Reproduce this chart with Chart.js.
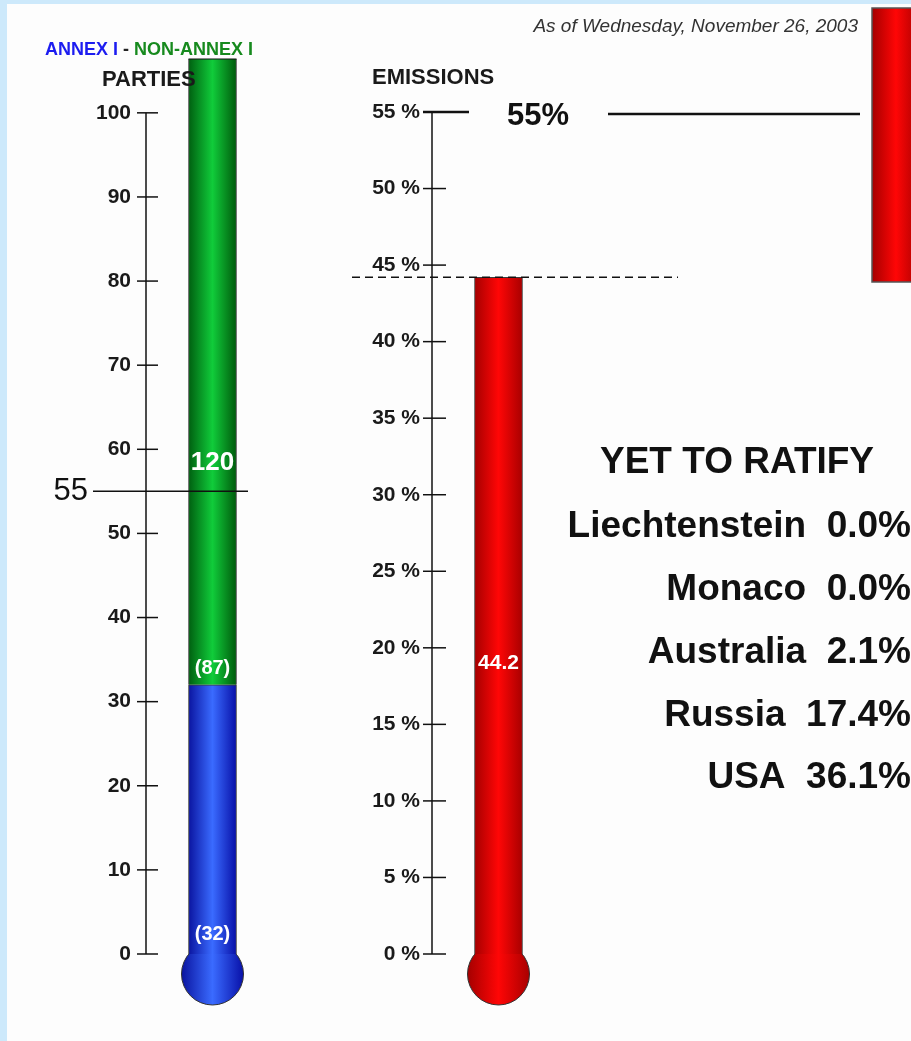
<!DOCTYPE html>
<html>
<head>
<meta charset="utf-8">
<title>Kyoto Protocol - parties and emissions</title>
<script src="https://cdn.jsdelivr.net/npm/chart.js@4.4.0/dist/chart.umd.min.js"></script>
<style>
  html, body { margin: 0; padding: 0; }
  body { width: 911px; height: 1041px; background: #cde9fb; position: relative; overflow: hidden; }
  #sheet { position: absolute; left: 7px; top: 4px; right: 0; bottom: 0; background: #fdfdfd; }
  #partiesChart { position: absolute; left: 0; top: 0; }
  #emissionsChart { position: absolute; left: 330px; top: 0; }
</style>
</head>
<body>
<div id="sheet"></div>
<canvas id="partiesChart" width="330" height="1041"></canvas>
<canvas id="emissionsChart" width="581" height="1041"></canvas>
<script>
// ---- data ----
const partyCategories = ['Parties'];
const annexIParties = [32];
const nonAnnexIParties = [87];
const totalParties = [120];
const partyTicks = [0, 10, 20, 30, 40, 50, 60, 70, 80, 90, 100];
const partyThreshold = 55;

const emissionCategories = ['Emissions'];
const ratifiedEmissions = [44.2];
const emissionTicks = [0, 5, 10, 15, 20, 25, 30, 35, 40, 45, 50, 55];
const emissionThreshold = 55;

const pendingCountries = ['Liechtenstein', 'Monaco', 'Australia', 'Russia', 'USA'];
const pendingShares = [0.0, 0.0, 2.1, 17.4, 36.1];

const asOfDate = 'As of Wednesday, November 26, 2003';

// ---- styling ----
const FONT = '"Liberation Sans", Arial, Helvetica, sans-serif';
const TUBE = 48;
const BULB_R = 31;
const blueStops = ['#0a14a0', '#3a6bff', '#0810a8'];
const greenStops = ['#005f10', '#10cc3a', '#005a0c'];
const redStops = ['#a50000', '#ff0606', '#a80000'];

function tubeFill(stops) {
    return function (c) {
        const chart = c.chart;
        const x = chart.scales.x;
        if (!x || !chart.chartArea) return stops[1];
        const cx = x.getPixelForValue(c.dataIndex);
        const g = chart.ctx.createLinearGradient(cx - TUBE / 2, 0, cx + TUBE / 2, 0);
        g.addColorStop(0, stops[0]);
        g.addColorStop(0.5, stops[1]);
        g.addColorStop(1, stops[2]);
        return g;
    };
}

function drawBulb(ctx, cx, cy, stops) {
    const g = ctx.createLinearGradient(cx - BULB_R, 0, cx + BULB_R, 0);
    g.addColorStop(0, stops[0]);
    g.addColorStop(0.5, stops[1]);
    g.addColorStop(1, stops[2]);
    ctx.save();
    ctx.beginPath();
    ctx.arc(cx, cy, BULB_R, 0, Math.PI * 2);
    ctx.fillStyle = g;
    ctx.fill();
    ctx.lineWidth = 1;
    ctx.strokeStyle = '#333';
    ctx.stroke();
    ctx.restore();
}

function line(ctx, x1, y1, x2, y2, w, dash) {
    ctx.save();
    ctx.beginPath();
    ctx.strokeStyle = '#111';
    ctx.lineWidth = w;
    if (dash) ctx.setLineDash(dash);
    ctx.moveTo(x1, y1);
    ctx.lineTo(x2, y2);
    ctx.stroke();
    ctx.restore();
}

function text(ctx, str, x, y, font, color, align) {
    ctx.save();
    ctx.font = font;
    ctx.fillStyle = color;
    ctx.textAlign = align || 'left';
    ctx.textBaseline = 'middle';
    ctx.fillText(str, x, y);
    ctx.restore();
}

// axis line with cross ticks
function drawAxis(ctx, yScale, ax, ticks, left, right) {
    const top = yScale.getPixelForValue(ticks[ticks.length - 1]);
    const bottom = yScale.getPixelForValue(ticks[0]);
    line(ctx, ax, top, ax, bottom, 1.5);
    ticks.forEach(v => {
        const py = yScale.getPixelForValue(v);
        line(ctx, ax - left, py, ax + right, py, 1.5);
    });
}

function yOptions(max, ticks, width, pad, fmt) {
    return {
        stacked: true,
        min: 0,
        max: max,
        grid: { display: false, drawTicks: false },
        border: { display: false },
        ticks: {
            padding: pad,
            color: '#1a1a1a',
            font: { family: FONT, size: 21, weight: 'bold' },
            callback: fmt
        },
        afterBuildTicks: s => { s.ticks = ticks.map(v => ({ value: v })); },
        afterFit: s => { s.width = width; s.paddingTop = 0; s.paddingBottom = 0; }
    };
}

// ---- parties thermometer ----
const partiesDecor = {
    id: 'partiesDecor',
    beforeDatasetsDraw(chart) {
        const { ctx, scales: { x, y } } = chart;
        drawBulb(ctx, x.getPixelForValue(0), y.getPixelForValue(0) + 20, blueStops);
    },
    afterDatasetsDraw(chart) {
        const { ctx, chartArea, scales: { x, y } } = chart;
        const cx = x.getPixelForValue(0);
        line(ctx, cx - TUBE / 2, chartArea.top, cx + TUBE / 2, chartArea.top, 1);
        drawAxis(ctx, y, chartArea.left, partyTicks, 9, 12);

        const yt = y.getPixelForValue(partyThreshold);
        line(ctx, 93, yt, 248, yt, 1.5);
        text(ctx, String(partyThreshold), 88, yt, '31px ' + FONT, '#111', 'right');

        // headers
        ctx.save();
        ctx.font = 'bold 18px ' + FONT;
        ctx.textBaseline = 'middle';
        let hx = 45;
        [['ANNEX I', '#1c1cf0'], [' - ', '#222'], ['NON-ANNEX I', '#178a1e']].forEach(([s, col]) => {
            ctx.fillStyle = col;
            ctx.fillText(s, hx, 50);
            hx += ctx.measureText(s).width;
        });
        ctx.restore();
        text(ctx, 'PARTIES', 102, 80, 'bold 22px ' + FONT, '#1a1a1a');

        // values inside the tube
        text(ctx, String(totalParties[0]), cx, yt - 29, 'bold 26px ' + FONT, '#fff', 'center');
        text(ctx, '(' + nonAnnexIParties[0] + ')', cx, y.getPixelForValue(annexIParties[0]) - 16, 'bold 20px ' + FONT, '#fff', 'center');
        text(ctx, '(' + annexIParties[0] + ')', cx, y.getPixelForValue(0) - 20, 'bold 20px ' + FONT, '#fff', 'center');
    }
};

new Chart(document.getElementById('partiesChart'), {
    type: 'bar',
    data: {
        labels: partyCategories,
        datasets: [
            {
                label: 'Annex I',
                data: annexIParties,
                backgroundColor: tubeFill(blueStops),
                borderColor: '#3a3a3a',
                borderWidth: 1,
                barThickness: TUBE,
                clip: { top: 0, left: false, right: false, bottom: false }
            },
            {
                label: 'Non-Annex I',
                data: totalParties.map((t, i) => t - annexIParties[i]),
                backgroundColor: tubeFill(greenStops),
                borderColor: '#3a3a3a',
                borderWidth: 1,
                barThickness: TUBE,
                clip: { top: 0, left: false, right: false, bottom: false }
            }
        ]
    },
    options: {
        responsive: false,
        animation: false,
        layout: { padding: { left: 8, top: 59, right: 51, bottom: 87 } },
        plugins: { legend: { display: false }, tooltip: { enabled: false } },
        scales: {
            x: { display: false, stacked: true },
            y: yOptions(106.4, partyTicks, 138, 15, v => v)
        }
    },
    plugins: [partiesDecor]
});

// ---- emissions thermometer ----
const emissionsDecor = {
    id: 'emissionsDecor',
    beforeDatasetsDraw(chart) {
        const { ctx, scales: { x, y } } = chart;
        drawBulb(ctx, x.getPixelForValue(0), y.getPixelForValue(0) + 20, redStops);
    },
    afterDatasetsDraw(chart) {
        const { ctx, chartArea, scales: { x, y } } = chart;
        const ax = chartArea.left;
        const cx = x.getPixelForValue(0);
        drawAxis(ctx, y, ax, emissionTicks, 9, 14);

        // 55% target
        const yt = y.getPixelForValue(emissionThreshold);
        line(ctx, ax - 9, yt, ax + 37, yt, 2.5);
        text(ctx, emissionThreshold + '%', 177, yt + 4, 'bold 31px ' + FONT, '#111');
        line(ctx, 278, yt + 2, 530, yt + 2, 2.5);

        // current level
        const yr = y.getPixelForValue(ratifiedEmissions[0]);
        line(ctx, 22, yr, 348, yr, 1.5, [8, 5]);
        text(ctx, ratifiedEmissions[0].toFixed(1), cx, y.getPixelForValue(19), 'bold 21px ' + FONT, '#fff', 'center');

        // headers
        text(ctx, 'EMISSIONS', 42, 78, 'bold 22px ' + FONT, '#1a1a1a');
        text(ctx, asOfDate, 528, 27, 'italic 19px ' + FONT, '#333', 'right');

        // cropped tube fragment at top right
        ctx.save();
        const g = ctx.createLinearGradient(542, 0, 542 + TUBE, 0);
        g.addColorStop(0, redStops[0]);
        g.addColorStop(0.5, redStops[1]);
        g.addColorStop(1, redStops[2]);
        ctx.fillStyle = g;
        ctx.fillRect(542, 8, TUBE, 274);
        ctx.strokeStyle = '#555';
        ctx.lineWidth = 1.5;
        ctx.strokeRect(542, 8, TUBE, 274);
        ctx.restore();

        // yet to ratify
        text(ctx, 'YET TO RATIFY', 407, 463, 'bold 37px ' + FONT, '#111', 'center');
        pendingCountries.forEach((name, i) => {
            text(ctx, name + '  ' + pendingShares[i].toFixed(1) + '%', 581, 527 + i * 62.8,
                'bold 37px ' + FONT, '#111', 'right');
        });
    }
};

new Chart(document.getElementById('emissionsChart'), {
    type: 'bar',
    data: {
        labels: emissionCategories,
        datasets: [{
            label: 'Ratified emissions (%)',
            data: ratifiedEmissions,
            backgroundColor: tubeFill(redStops),
            borderColor: '#3a3a3a',
            borderWidth: 1,
            barThickness: TUBE
        }]
    },
    options: {
        responsive: false,
        animation: false,
        layout: { padding: { left: 0, top: 112, right: 346, bottom: 87 } },
        plugins: { legend: { display: false }, tooltip: { enabled: false } },
        scales: {
            x: { display: false },
            y: yOptions(55, emissionTicks, 102, 12, v => v + ' %')
        }
    },
    plugins: [emissionsDecor]
});
</script>
</body>
</html>
